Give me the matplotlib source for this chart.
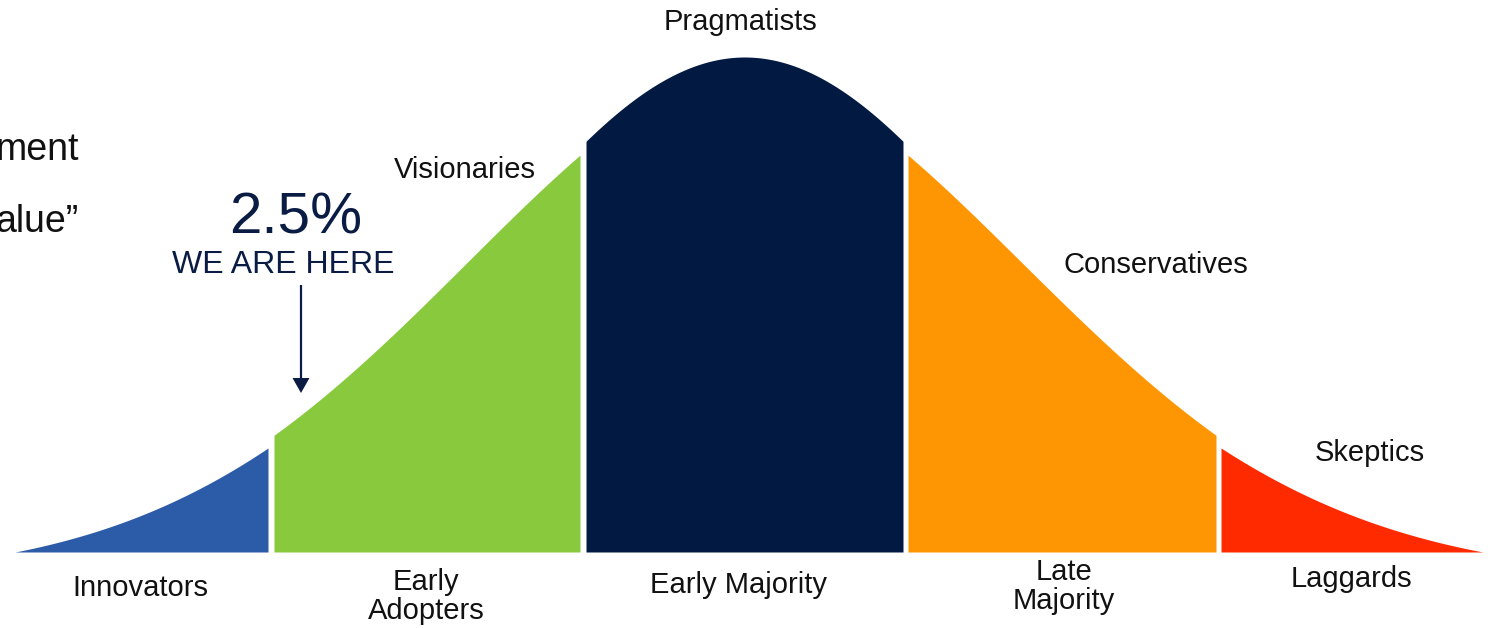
import numpy as np
import matplotlib

matplotlib.use("Agg")
import matplotlib.pyplot as plt

# Adoption curve: five pieces of one bell, drawn with white gaps between them.
segments = ["Innovators", "Early Adopters", "Early Majority", "Late Majority", "Laggards"]
seg_colors = ["#2c5ba8", "#88c93e", "#021a42", "#fe9603", "#ff2a00"]
# drawn left/right edges of each piece (pixel space of the slide)
seg_x0 = [15, 274, 586, 908, 1221]
seg_x1 = [268, 580, 903, 1216, 1483]
# matching stretch of the bell (in standard deviations) shown by each piece
seg_u0 = [-2.448, -1.609, -0.594, 0.646, 1.666]
seg_u1 = [-1.666, -0.646, 0.594, 1.609, 2.448]

bottom_labels = ["Innovators", "Early\nAdopters", "Early Majority", "Late\nMajority", "Laggards"]
bottom_x = [140, 426, 738, 1064, 1351]
bottom_y = [596, 590, 593, 580, 587]

top_labels = ["Visionaries", "Pragmatists", "Conservatives", "Skeptics"]
top_x = [465, 741, 1156, 1370]
top_y = [178, 30, 273, 461]

PEAK = 495.0
BASE = 552.0
TAIL = 0.05

W, H = 1493, 628
fig = plt.figure(figsize=(W / 100, H / 100), dpi=100)
ax = fig.add_axes([0, 0, 1, 1])
ax.set_xlim(0, W)
ax.set_ylim(H, 0)
ax.axis("off")

for name, col, x0, x1, u0, u1 in zip(segments, seg_colors, seg_x0, seg_x1, seg_u0, seg_u1):
    u = np.linspace(u0, u1, 300)
    xs = np.linspace(x0, x1, 300)
    h = PEAK * (np.exp(-u ** 2 / 2) - TAIL) / (1 - TAIL)
    ax.fill_between(xs, BASE, BASE - h, color=col, lw=0)

font = "Liberation Sans"
for lab, x, y in zip(bottom_labels, bottom_x, bottom_y):
    lines = lab.split("\n")
    for i, ln in enumerate(lines):
        yy = y + i * 29 if len(lines) > 1 else y
        ax.text(x, yy, ln, ha="center", va="baseline", fontsize=21,
                family=font, color="#111111")

for lab, x, y in zip(top_labels, top_x, top_y):
    ax.text(x, y, lab, ha="center", va="baseline", fontsize=21,
            family=font, color="#111111")

# cut-off text at the left edge of the slide
ax.text(79, 160, "ment", ha="right", va="baseline", fontsize=27, family=font, color="#111111")
ax.text(79, 232, "alue\u201d", ha="right", va="baseline", fontsize=27, family=font, color="#111111")

navy = "#0b1c44"
ax.text(296, 234, "2.5%", ha="center", va="baseline", fontsize=42, family=font, color=navy)
ax.text(283, 273, "WE ARE HERE", ha="center", va="baseline", fontsize=23, family=font, color=navy)
ax.arrow(301, 285, 0, 108, width=2.2, head_width=17, head_length=15,
         length_includes_head=True, color=navy, lw=0)

fig.savefig("out.png", dpi=100)
